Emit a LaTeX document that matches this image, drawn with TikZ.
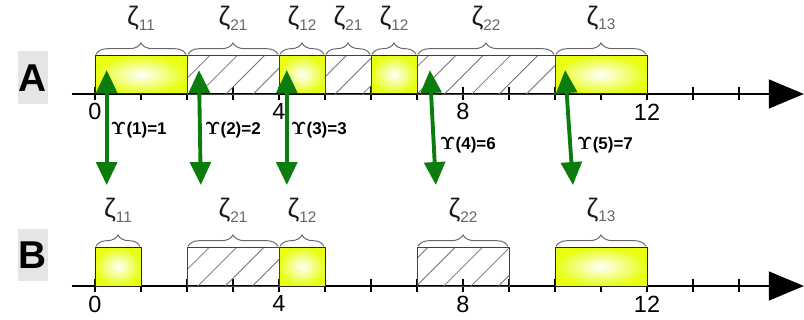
\documentclass[tikz,border=0pt]{standalone}
\usepackage{fontspec}
\setmainfont{Liberation Sans}
\usetikzlibrary{arrows.meta,patterns.meta,decorations.pathreplacing,positioning}

\definecolor{slotyellow}{RGB}{232,255,16}
\definecolor{mapgreen}{RGB}{12,125,12}

\newcommand{\zlab}[1]{ζ\raisebox{-3pt}{\fontsize{9.5}{9.5}\selectfont\color{black!60}#1}}
\newcommand{\ups}[2]{{\boldmath$\Upsilon$}(#1)=#2}

\tikzset{
  fullslot/.style={draw=black!85, line width=0.6pt, inner color=white, outer color=slotyellow},
  idleslot/.style={draw=black!75, line width=0.5pt, pattern={Lines[angle=45,distance=0.42cm,line width=0.5pt]}, pattern color=black!55},
  slotbrace/.style={decorate, decoration={brace, amplitude=0.25cm}, draw=black!60, line width=0.6pt},
  slotlabel/.style={above=0.52cm, inner sep=0pt, text=black!90, font=\fontsize{16.5}{17}\selectfont},
  timetick/.style={line width=1.6pt},
  ticklabel/.style={inner sep=0pt, font=\fontsize{14.5}{16}\selectfont},
  maparrow/.style={line width=2.4pt, draw=mapgreen, {Triangle[length=0.5cm,width=0.45cm,fill=mapgreen]}-{Triangle[length=0.5cm,width=0.45cm,fill=mapgreen]}},
  maplabel/.style={anchor=west, inner sep=0pt, font=\bfseries\fontsize{10.5}{12}\selectfont},
  rowtag/.style={fill=black!10, minimum width=0.66cm, minimum height=1.15cm, inner sep=0pt, font=\bfseries\fontsize{24}{25}\selectfont}
}

\begin{document}
\begin{tikzpicture}
    \useasboundingbox (-2.065,-4.913) rectangle (15.413,2.043);

    % Row tags
    \node[rowtag] (tagA) at (-1.348,0.35) {A};
    \node[rowtag] (tagB) at (-1.348,-3.50) {B};

    % Time axes with ticks
    \foreach \row/\y in {A/0, B/-4.174} {
        \draw[line width=0.7pt, -{Triangle[length=0.76cm,width=0.63cm]}] (-0.5,\y) -- (15.41,\y);
        \foreach \t in {0,...,14}
            \draw[timetick] (\t,\y-0.13) -- (\t,\y+0.15);
        \foreach \t in {0,4,8,12}
            \node[ticklabel] (t\row\t) at (\t,\y-0.39) {\t};
    }

    % Row A: busy and idle slots
    \foreach \a/\b in {0/2, 4/5, 6/7, 10/12}
        \draw[fullslot] (\a,0) rectangle (\b,0.84);
    \foreach \a/\b in {2/4, 5/6, 7/10}
        \draw[idleslot] (\a,0) rectangle (\b,0.84);
    \foreach \a/\b/\s [count=\i] in {0/2/11, 2/4/21, 4/5/12, 5/6/21, 6/7/12, 7/10/22, 10/12/13}
        \draw[slotbrace] (\a+0.02,0.86) -- (\b-0.02,0.86) node[midway, slotlabel] (zA\i) {\zlab{\s}};

    % Row B: busy and idle slots
    \foreach \a/\b in {0/1, 4/5, 10/12}
        \draw[fullslot] (\a,-4.174) rectangle (\b,-3.334);
    \foreach \a/\b in {2/4, 7/9}
        \draw[idleslot] (\a,-4.174) rectangle (\b,-3.334);
    \foreach \a/\b/\s [count=\i] in {0/1/11, 2/4/21, 4/5/12, 7/9/22, 10/12/13}
        \draw[slotbrace] (\a+0.02,-3.314) -- (\b-0.02,-3.314) node[midway, slotlabel] (zB\i) {\zlab{\s}};

    % Mapping arrows between the rows
    \foreach \i/\xu/\xd/\ly/\v in {1/0.254/0.254/-0.78/1, 2/2.26/2.30/-0.78/2, 3/4.17/4.17/-0.78/3, 4/7.28/7.41/-1.11/6, 5/10.22/10.39/-1.11/7} {
        \coordinate (up\i) at (\xu,0.52);
        \coordinate (dn\i) at (\xd,-1.98);
        \draw[maparrow] (up\i) -- (dn\i);
        \node[maplabel] (map\i) at (\xd+0.08,\ly) {\ups{\i}{\v}};
    }
\end{tikzpicture}
\end{document}
